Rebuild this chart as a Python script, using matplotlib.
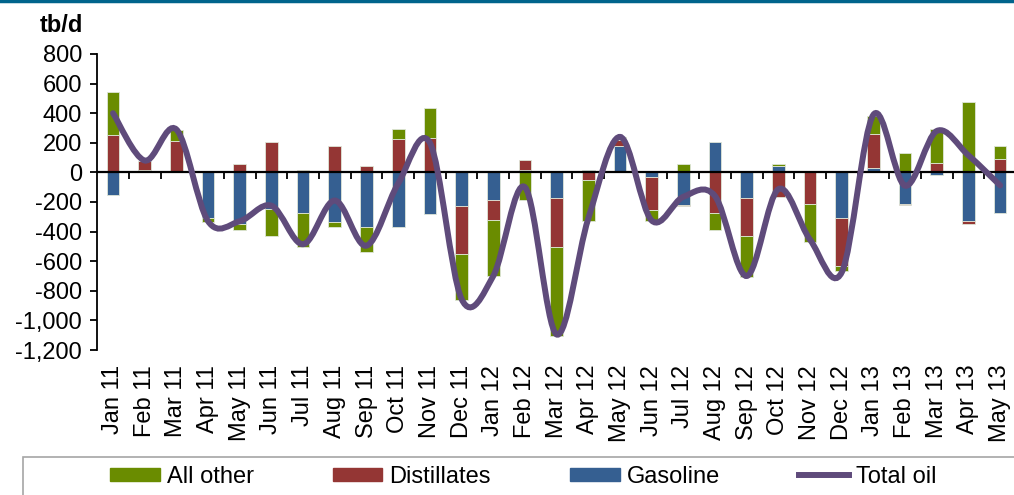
import numpy as np
import matplotlib
matplotlib.use('Agg')
import matplotlib.pyplot as plt
from matplotlib.path import Path
from matplotlib.patches import PathPatch, Rectangle
from matplotlib.lines import Line2D
from matplotlib.ticker import FuncFormatter, FixedLocator

plt.rcParams['font.family'] = ['Liberation Sans', 'DejaVu Sans']
plt.rcParams['axes.unicode_minus'] = False

months = ['Jan 11', 'Feb 11', 'Mar 11', 'Apr 11', 'May 11', 'Jun 11', 'Jul 11', 'Aug 11',
          'Sep 11', 'Oct 11', 'Nov 11', 'Dec 11', 'Jan 12', 'Feb 12', 'Mar 12', 'Apr 12',
          'May 12', 'Jun 12', 'Jul 12', 'Aug 12', 'Sep 12', 'Oct 12', 'Nov 12', 'Dec 12',
          'Jan 13', 'Feb 13', 'Mar 13', 'Apr 13', 'May 13']

gasoline = [-150, 18, 0, -310, -348, -246, -273, -337, -371, -371, -280, -230, -185, 14, -172,
            18, 176, -32, -219, 208, -172, 45, 0, -307, 27, -212, -18, -330, -271]
distillates = [255, 62, 212, 0, 56, 203, 16, 176, 45, 226, 233, -321, -136, 67, -334,
               -54, 41, -219, -7, -271, -257, -167, -212, -324, 235, -7, 63, -20, 90]
all_other = [290, 0, 73, -24, -41, -184, -229, -29, -169, 68, 205, -310, -382, -185, -599,
             -276, 20, -74, 59, -118, -281, 9, -256, -34, 118, 129, 229, 475, 89]
total_oil = [400, 80, 290, -330, -330, -225, -485, -190, -495, -75, 200, -855, -700, -100, -1095,
             -312, 240, -325, -165, -160, -700, -113, -455, -675, 390, -90, 280, 115, -88]

c_other = '#6A8C00'
c_dist = '#943634'
c_gas = '#355F91'
c_total = '#5F4B7B'
fs = 17

fig = plt.figure(figsize=(10.14, 4.95), dpi=100)
ax = fig.add_axes([97.2 / 1014, 1 - 350 / 495, (1016 - 97.2) / 1014, (350 - 54) / 495])

x = np.arange(len(months))
pos = np.zeros(len(x))
neg = np.zeros(len(x))
for vals, col in [(gasoline, c_gas), (distillates, c_dist), (all_other, c_other)]:
    v = np.array(vals, dtype=float)
    bottom = np.where(v >= 0, pos, neg)
    ax.bar(x, v, 0.4, bottom=bottom, color=col, edgecolor='#dfe6d8', linewidth=0.6, zorder=2)
    pos = pos + np.where(v >= 0, v, 0)
    neg = neg + np.where(v < 0, v, 0)

# smoothed line (Excel-style Bezier through the points)
pts = np.column_stack([x, total_oil]).astype(float)
verts = [pts[0]]
codes = [Path.MOVETO]
for i in range(len(pts) - 1):
    p0 = pts[max(i - 1, 0)]
    p1 = pts[i]
    p2 = pts[i + 1]
    p3 = pts[min(i + 2, len(pts) - 1)]
    verts += [p1 + (p2 - p0) / 6, p2 - (p3 - p1) / 6, p2]
    codes += [Path.CURVE4] * 3
ax.add_patch(PathPatch(Path(verts, codes), facecolor='none', edgecolor=c_total,
                       linewidth=4.3, capstyle='round', zorder=4))

ax.axhline(0, color='black', linewidth=1.6, zorder=3)

ax.set_xlim(-0.5, len(x) - 0.5)
ax.set_ylim(-1200, 800)
ax.set_yticks(range(-1200, 801, 200))
ax.yaxis.set_major_formatter(FuncFormatter(lambda v, p: f'{v:,.0f}'))
ax.tick_params(axis='y', direction='out', length=5, width=1.3, pad=6, labelsize=fs)

ax.spines['bottom'].set_position(('data', 0))
ax.spines['bottom'].set_visible(False)
ax.spines['top'].set_visible(False)
ax.spines['right'].set_visible(False)
ax.spines['left'].set_linewidth(1.3)
ax.xaxis.set_major_locator(FixedLocator(x[:-1] + 0.5))
ax.tick_params(axis='x', direction='out', length=5, width=1.3, labelbottom=False)

for i, m in enumerate(months):
    ax.text(i, -0.05, m, transform=ax.get_xaxis_transform(), rotation=90,
            ha='center', va='top', fontsize=fs)

fig.text(40 / 1014, 1 - 25 / 495, 'tb/d', fontsize=fs, fontweight='bold', va='center')

# top rule and legend box
fig.add_artist(Line2D([0, 1], [0.998, 0.998], color='#00648C', linewidth=2.5,
                      transform=fig.transFigure))
fig.add_artist(Rectangle((23 / 1014, -0.05), 1.0, 0.05 + 1 - 457 / 495, transform=fig.transFigure,
                         facecolor='white', edgecolor='#A6A6A6', linewidth=1.2))

handles = [Rectangle((0, 0), 1, 1, color=c_other), Rectangle((0, 0), 1, 1, color=c_dist),
           Rectangle((0, 0), 1, 1, color=c_gas), Line2D([], [], color=c_total, linewidth=4.3)]
fig.legend(handles, ['All other', 'Distillates', 'Gasoline', 'Total oil'], ncol=4,
           loc='center left', bbox_to_anchor=(110 / 1014, 1 - 477 / 495),
           frameon=False, fontsize=fs, borderpad=0, borderaxespad=0,
           handlelength=2.1, handleheight=0.5, handletextpad=0.3, columnspacing=3.35)

fig.savefig('out.png', dpi=100)
